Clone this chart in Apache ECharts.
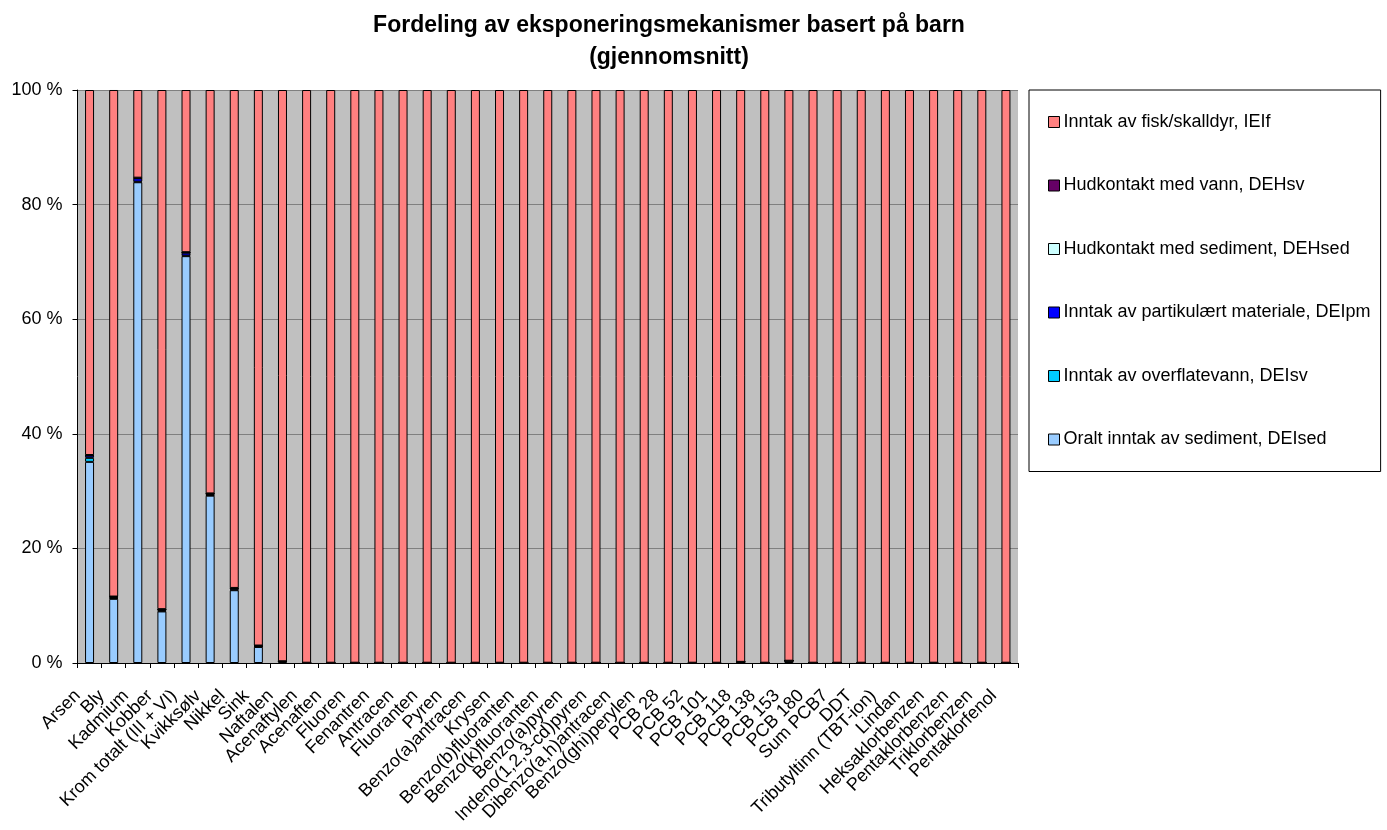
<!DOCTYPE html>
<html>
<head>
<meta charset="utf-8">
<script src="https://cdn.jsdelivr.net/npm/echarts@6/dist/echarts.min.js"></script>
<style>
html,body{margin:0;padding:0;background:#fff;}
#chart{width:1387px;height:830px;}
</style>
</head>
<body>
<div id="chart"></div>
<script>
var categories = ["Arsen","Bly","Kadmium","Kobber","Krom totalt (III + VI)","Kvikksølv","Nikkel","Sink","Naftalen","Acenaftylen","Acenaften","Fluoren","Fenantren","Antracen","Fluoranten","Pyren","Benzo(a)antracen","Krysen","Benzo(b)fluoranten","Benzo(k)fluoranten","Benzo(a)pyren","Indeno(1,2,3-cd)pyren","Dibenzo(a,h)antracen","Benzo(ghi)perylen","PCB 28","PCB 52","PCB 101","PCB 118","PCB 138","PCB 153","PCB 180","Sum PCB7","DDT","Tributyltinn (TBT-ion)","Lindan","Heksaklorbenzen","Pentaklorbenzen","Triklorbenzen","Pentaklorfenol"];

var yTicks = [0, 20, 40, 60, 80, 100];

var DEIsed = [35.1,11.2,83.9,9.0,71.0,29.2,12.7,2.8,0.3,0.05,0.05,0.05,0.05,0.05,0.05,0.05,0.05,0.05,0.05,0.05,0.05,0.05,0.05,0.05,0.05,0.05,0.05,0.2,0.05,0.4,0.05,0.05,0.05,0.05,0.05,0.05,0.05,0.05,0.05];
var DEIsv  = [0.7,0.1,0.1,0.1,0.1,0.1,0.1,0.05,0,0,0,0,0,0,0,0,0,0,0,0,0,0,0,0,0,0,0,0,0,0,0,0,0,0,0,0,0,0,0];
var DEIpm  = [0.4,0.2,0.6,0.2,0.5,0.2,0.2,0.1,0,0,0,0,0,0,0,0,0,0,0,0,0,0,0,0,0,0,0,0,0,0,0,0,0,0,0,0,0,0,0];
var DEHsed = [0.05,0.05,0.05,0.05,0.05,0.05,0.05,0.05,0,0,0,0,0,0,0,0,0,0,0,0,0,0,0,0,0,0,0,0,0,0,0,0,0,0,0,0,0,0,0];
var DEHsv  = [0.05,0.05,0.05,0.05,0.05,0.05,0.05,0.05,0,0,0,0,0,0,0,0,0,0,0,0,0,0,0,0,0,0,0,0,0,0,0,0,0,0,0,0,0,0,0];
var IEIf   = [63.7,88.4,15.3,90.6,28.3,70.4,86.9,96.95,99.7,99.95,99.95,99.95,99.95,99.95,99.95,99.95,99.95,99.95,99.95,99.95,99.95,99.95,99.95,99.95,99.95,99.95,99.95,99.8,99.95,99.6,99.95,99.95,99.95,99.95,99.95,99.95,99.95,99.95,99.95];

var seriesNames = {
  DEIsed: "Oralt inntak av sediment, DEIsed",
  DEIsv: "Inntak av overflatevann, DEIsv",
  DEIpm: "Inntak av partikulært materiale, DEIpm",
  DEHsed: "Hudkontakt med sediment, DEHsed",
  DEHsv: "Hudkontakt med vann, DEHsv",
  IEIf: "Inntak av fisk/skalldyr, IEIf"
};
var colors = {
  DEIsed: "#99CCFF",
  DEIsv: "#00CCFF",
  DEIpm: "#0000FF",
  DEHsed: "#CCFFFF",
  DEHsv: "#660066",
  IEIf: "#FF8080"
};

var stackOrder = [["DEIsed",DEIsed],["DEIsv",DEIsv],["DEIpm",DEIpm],["DEHsed",DEHsed],["DEHsv",DEHsv],["IEIf",IEIf]];

var series = stackOrder.map(function(s){
  return {
    name: seriesNames[s[0]],
    type: 'bar',
    stack: 'total',
    barWidth: 9,
    data: s[1],
    itemStyle: { color: colors[s[0]], borderColor: '#000', borderWidth: 1 },
    emphasis: { disabled: true }
  };
});

var FONT = 'Liberation Sans, Arial, sans-serif';
var chart = echarts.init(document.getElementById('chart'), null, {renderer:'canvas'});
chart.setOption({
  animation: false,
  backgroundColor: '#ffffff',
  textStyle: { fontFamily: FONT },
  title: {
    text: 'Fordeling av eksponeringsmekanismer basert på barn\n(gjennomsnitt)',
    left: 664,
    textAlign: 'center',
    top: 5,
    textStyle: { fontSize: 23, fontWeight: 'bold', color: '#000', lineHeight: 32, fontFamily: FONT }
  },
  legend: {
    orient: 'vertical',
    left: 1029,
    top: 90,
    data: [seriesNames.IEIf, seriesNames.DEHsv, seriesNames.DEHsed, seriesNames.DEIpm, seriesNames.DEIsv, seriesNames.DEIsed],
    itemWidth: 11,
    itemHeight: 11,
    itemGap: 45.5,
    padding: [23, 10, 23, 19],
    borderColor: '#000',
    borderWidth: 1,
    backgroundColor: '#fff',
    icon: 'rect',
    itemStyle: { borderColor: '#000', borderWidth: 1 },
    textStyle: { fontSize: 18, lineHeight: 18, color: '#000', padding: [0,0,0,-1], fontFamily: FONT },
    selectedMode: false
  },
  grid: {
    left: 77.5, right: 369, top: 90, bottom: 167,
    show: true,
    backgroundColor: '#C0C0C0',
    borderWidth: 0
  },
  xAxis: {
    type: 'category',
    data: categories,
    axisLine: { lineStyle: { color: '#000', width: 1 } },
    axisTick: { show: true, length: 5, lineStyle: { color: '#000' } },
    axisLabel: { rotate: 45, fontSize: 18, color: '#000', interval: 0, margin: 18, padding: [0, 17, 0, 0], fontFamily: FONT },
    splitLine: { show: false }
  },
  yAxis: {
    type: 'value',
    min: yTicks[0],
    max: yTicks[yTicks.length-1],
    interval: 20,
    axisLine: { show: true, lineStyle: { color: '#000', width: 1 } },
    axisTick: { show: true, length: 5, lineStyle: { color: '#000' } },
    axisLabel: { fontSize: 18, color: '#000', margin: 15, fontFamily: FONT, formatter: function(v){ return v + ' %'; } },
    splitLine: { show: true, lineStyle: { color: '#808080', width: 1 } }
  },
  series: series
});
</script>
</body>
</html>
